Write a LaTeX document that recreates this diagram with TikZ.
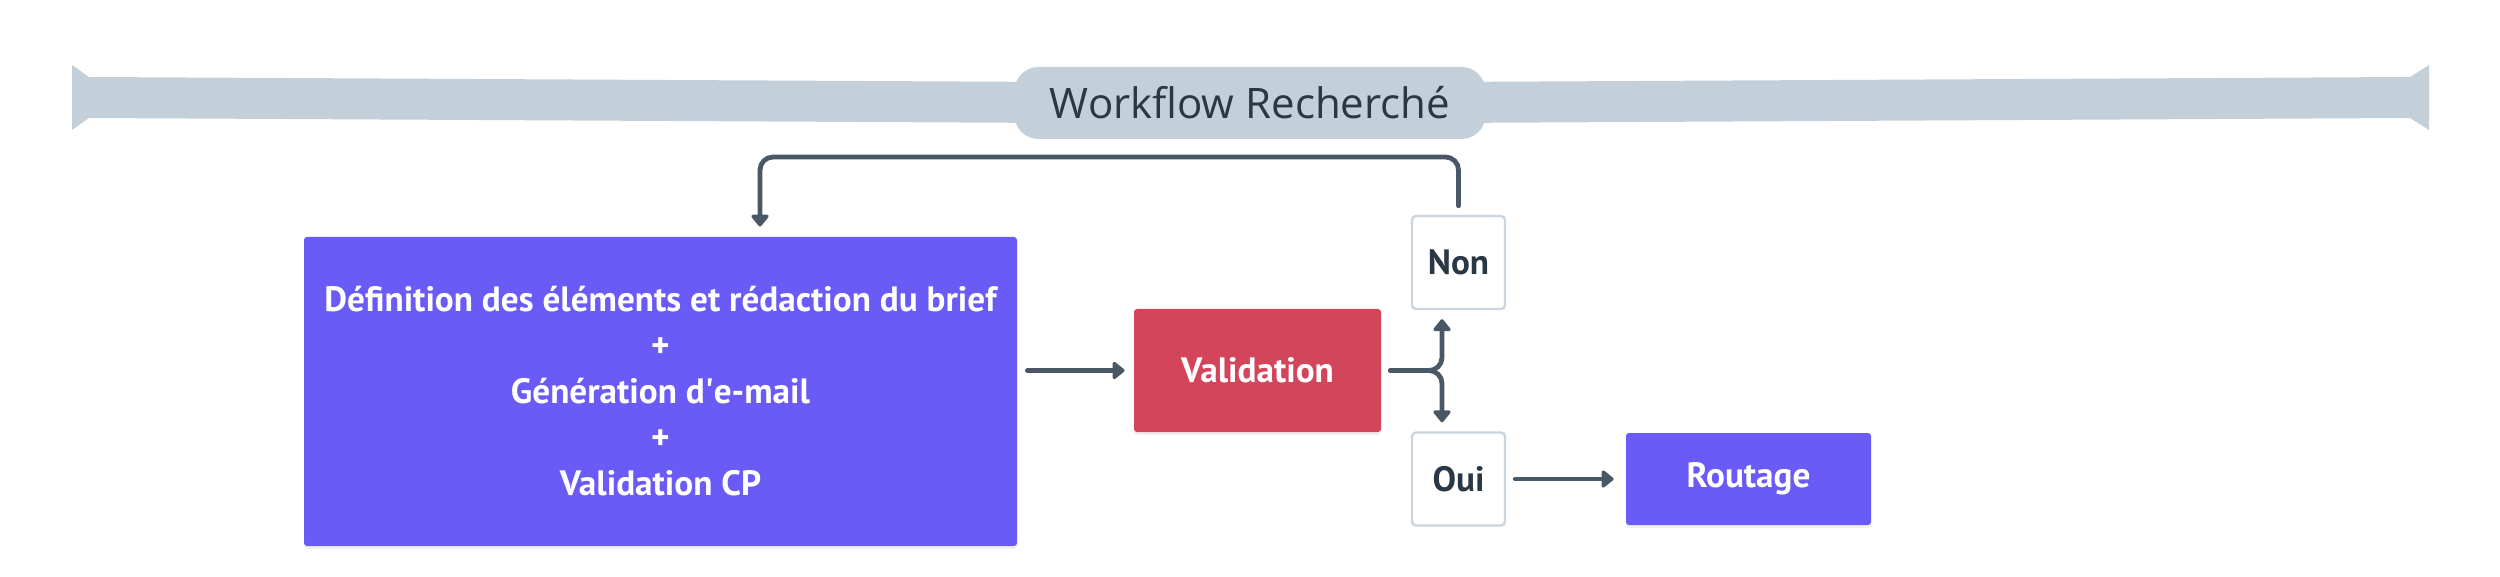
\documentclass[tikz,border=0pt]{standalone}
\usepackage{fontspec}
\setmainfont{PT Sans}
\newfontfamily\titlefont{Open Sans}
\usetikzlibrary{positioning,arrows.meta,shadows}
\definecolor{bandgrey}{HTML}{C3D0DA}
\definecolor{boxpurple}{HTML}{6A5AF6}
\definecolor{boxred}{HTML}{D3455B}
\definecolor{linegrey}{HTML}{4A5866}
\definecolor{textdark}{HTML}{2A3744}
\definecolor{labelborder}{HTML}{CBD5DD}

\begin{document}
\begin{tikzpicture}[x=0.5pt,y=-0.5pt,
  block/.style={rectangle,rounded corners=1.5pt,text=white,align=center,inner sep=0pt,
    font=\bfseries\fontsize{17.6}{23}\selectfont,
    drop shadow={opacity=0.12,shadow xshift=0pt,shadow yshift=-1.5pt}},
  answer/.style={rectangle,rounded corners=2pt,draw=labelborder,line width=1.2pt,fill=white,
    text=textdark,font=\bfseries\fontsize{17.6}{20}\selectfont,
    minimum width=46.5pt,minimum height=46.5pt,inner sep=0pt},
  flow/.style={draw=linegrey,line width=2.4pt,line cap=round,rounded corners=6.5pt,
    -{Triangle[length=6.5pt,width=10pt,round]}}]
\useasboundingbox (0,0) rectangle (2500,577);

\fill[bandgrey] (72,65) -- (89,77) -- (1250,83) -- (2410,77) -- (2429,65) -- (2429,130)
  -- (2410,118) -- (1250,124) -- (89,118) -- (72,130) -- cycle;
\node (title) at (1250,103) [fill=bandgrey,rounded corners=12pt,minimum width=235.5pt,
  minimum height=36pt,text=textdark,font=\titlefont\fontsize{21}{24}\selectfont] {Workflow Recherché};

\path
(660.5,391.5) node [block,fill=boxpurple,minimum width=356.5pt,minimum height=154.5pt] (brief)
  {Définition des éléments et rédaction du brief\\+\\Génération d\textquotesingle e-mail\\+\\Validation CP}
(1257.5,370.5) node [block,fill=boxred,minimum width=123.5pt,minimum height=61.5pt] (valid) {Validation}
(1458.5,262.5) node [answer] (non) {Non}
(1458.5,479) node [answer] (oui) {Oui}
(1748.5,479) node [block,fill=boxpurple,minimum width=122.5pt,minimum height=46pt] (rout) {Routage};

\coordinate (fork) at (1442,370.5);
\coordinate (loop) at (760,157);
\draw[flow,shorten <=5pt,shorten >=4.5pt] (valid.west -| brief.east) -- (valid.west);
\draw[flow,shorten <=4.5pt,shorten >=4.5pt] (valid.east) -| (fork |- non.south);
\draw[flow,shorten <=4.5pt,shorten >=4.5pt] (valid.east) -| (fork |- oui.north);
\draw[flow,shorten <=4.5pt,shorten >=5pt] (non.north) |- (loop) -- (loop |- brief.north);
\draw[flow,shorten <=4.5pt,shorten >=6pt] (oui.east) -- (rout.west);
\end{tikzpicture}
\end{document}
